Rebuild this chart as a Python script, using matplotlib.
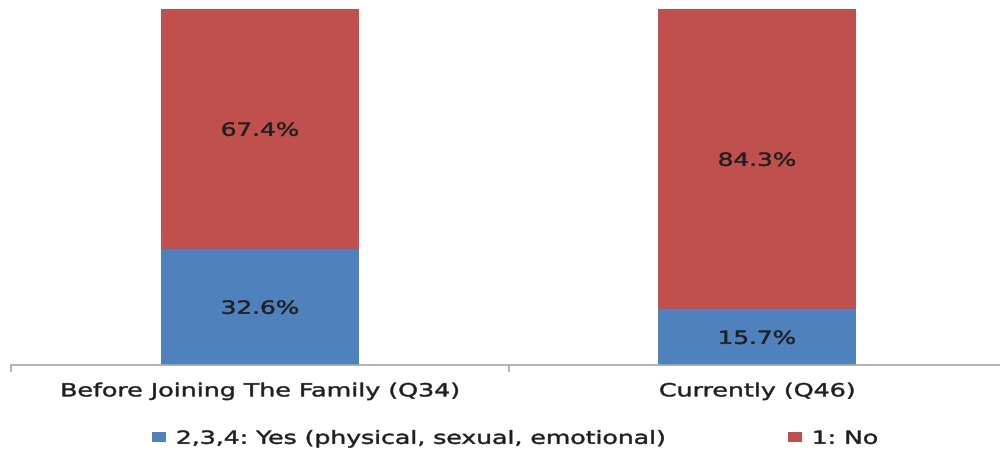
import numpy as np
from matplotlib import pyplot as plt
from matplotlib.patheffects import AbstractPathEffect
from matplotlib.transforms import Affine2D

categories = ["Before Joining The Family (Q34)", "Currently (Q46)"]
yes_vals = [32.6, 15.7]
no_vals = [67.4, 84.3]
series_names = ["2,3,4: Yes (physical, sexual, emotional)", "1: No"]

blue = "#4F81BD"
red = "#C0504D"
txt = "#1E1E1E"


# the source chart has its text stretched wide; widen glyphs horizontally
# and give them a hair of extra weight
class HStretch(AbstractPathEffect):
    def __init__(self, sx, anchor="center", lw=0.35):
        super().__init__()
        self.sx = sx
        self.anchor = anchor
        self.lw = lw

    def draw_path(self, renderer, gc, tpath, affine, rgbFace=None):
        ext = tpath.transformed(affine).get_extents()
        x0 = ext.x0 if self.anchor == "left" else (ext.x0 + ext.x1) / 2
        t = affine + Affine2D().translate(-x0, 0).scale(self.sx, 1).translate(x0, 0)
        gc0 = renderer.new_gc()
        gc0.copy_properties(gc)
        gc0.set_linewidth(self.lw)
        gc0.set_foreground(rgbFace)
        renderer.draw_path(gc0, tpath, t, rgbFace)
        gc0.restore()


fig = plt.figure(figsize=(10, 4.52), dpi=100)
ax = fig.add_axes([0.0115, 0.1903, 0.994, 0.7876])

x = np.arange(len(categories))
b1 = ax.bar(x, yes_vals, width=0.4, color=blue, label=series_names[0])
b2 = ax.bar(x, no_vals, width=0.4, bottom=yes_vals, color=red, label=series_names[1])

for i in range(len(categories)):
    for yv, v in [(yes_vals[i] / 2, yes_vals[i]), (yes_vals[i] + no_vals[i] / 2, no_vals[i])]:
        t = ax.text(x[i], yv - 0.5, f"{v:.1f}%", ha="center", va="center",
                    fontsize=13, color=txt)
        t.set_path_effects([HStretch(1.37)])

ax.set_xlim(-0.5, 1.5)
ax.set_ylim(0, 100)
for s in ["top", "right", "left"]:
    ax.spines[s].set_visible(False)
ax.spines["bottom"].set_color("#A6A6A6")
ax.spines["bottom"].set_linewidth(1.2)
ax.set_yticks([])
ax.set_xticks(x)
ax.set_xticklabels(categories, fontsize=13, color=txt)
for lab in ax.get_xticklabels():
    lab.set_path_effects([HStretch(1.40)])
ax.tick_params(axis="x", length=0, pad=12.5)
# category boundary ticks
ax.set_xticks([-0.5, 0.5, 1.5], minor=True)
ax.tick_params(axis="x", which="minor", length=5, color="#A6A6A6", width=1.2)

leg = fig.legend(handles=[b1, b2], labels=series_names, loc="center left",
                 bbox_to_anchor=(0.152, 0.027), ncol=2, frameon=False, fontsize=13,
                 handlelength=0.75, handleheight=0.46, columnspacing=14.35,
                 handletextpad=0.6, borderpad=0, borderaxespad=0, labelcolor=txt)
for t in leg.get_texts():
    t.set_path_effects([HStretch(1.39, "left")])

fig.savefig("out.png", dpi=100)
